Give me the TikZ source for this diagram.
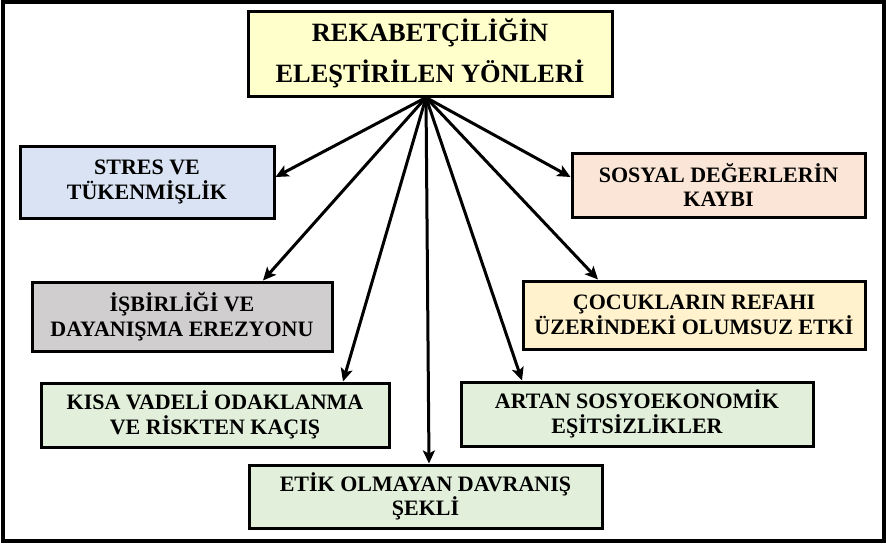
\documentclass[tikz,border=0pt]{standalone}
\usepackage{fontspec}
\setmainfont{Liberation Serif}
\usetikzlibrary{arrows.meta}

\definecolor{titlefill}{HTML}{FFFFCC}
\definecolor{bluefill}{HTML}{DAE3F3}
\definecolor{grayfill}{HTML}{D0CECE}
\definecolor{greenfill}{HTML}{E2EFDA}
\definecolor{yellowfill}{HTML}{FFF2CC}
\definecolor{pinkfill}{HTML}{FBE5D6}

\tikzset{
  box/.style={draw=black, line width=3pt, rectangle, align=center,
    inner sep=0pt, font=\fontsize{22}{24.5}\selectfont\bfseries},
  titlebox/.style={box, font=\fontsize{26.4}{41}\selectfont\bfseries},
  arr/.style={line width=3pt, -{Stealth[length=13pt,width=12pt,inset=3pt]}},
}

\begin{document}
\begin{tikzpicture}[x=1pt, y=-1pt]
  \useasboundingbox (0,0) rectangle (886,546);
  % outer frame
  \draw[line width=4pt] (3,2) rectangle (884,541);

  % central topic
  \node[titlebox, fill=titlefill, minimum width=364pt, minimum height=85pt]
    (title) at (430,53.5) {REKABETÇİLİĞİN\\ELEŞTİRİLEN YÖNLERİ};
  \coordinate (src) at ([xshift=-4pt]title.south);

  % criticised aspects
  \node[box, fill=bluefill, minimum width=254pt, minimum height=72pt]
    (stres) at (147,182) {STRES VE\\TÜKENMİŞLİK};
  \node[box, fill=pinkfill, minimum width=293pt, minimum height=64pt]
    (sosyal) at (718.5,185) {SOSYAL DEĞERLERİN\\KAYBI};
  \node[box, fill=grayfill, minimum width=300pt, minimum height=69pt]
    (isbirligi) at (182,316.5) {İŞBİRLİĞİ VE\\DAYANIŞMA EREZYONU};
  \node[box, fill=yellowfill, minimum width=342pt, minimum height=68pt]
    (cocuk) at (694,315) {ÇOCUKLARIN REFAHI\\ÜZERİNDEKİ OLUMSUZ ETKİ};
  \node[box, fill=greenfill, minimum width=348pt, minimum height=64pt]
    (kisa) at (215,415) {KISA VADELİ ODAKLANMA\\VE RİSKTEN KAÇIŞ};
  \node[box, fill=greenfill, minimum width=352pt, minimum height=64pt]
    (artan) at (637,414) {ARTAN SOSYOEKONOMİK\\EŞİTSİZLİKLER};
  \node[box, fill=greenfill, minimum width=353pt, minimum height=63pt]
    (etik) at (425.5,496.5) {ETİK OLMAYAN DAVRANIŞ\\ŞEKLİ};

  % connectors
  \draw[arr] (src) -- ([yshift=5pt]stres.east);
  \draw[arr] (src) -- ([xshift=81pt]isbirligi.north);
  \draw[arr] (src) -- ([xshift=128pt]kisa.north);
  \draw[arr] (src) -- ([xshift=3.5pt]etik.north);
  \draw[arr] (src) -- ([xshift=-115pt]artan.north);
  \draw[arr] (src) -- ([xshift=-96pt]cocuk.north);
  \draw[arr] (src) -- ([yshift=8pt]sosyal.west);
\end{tikzpicture}
\end{document}
